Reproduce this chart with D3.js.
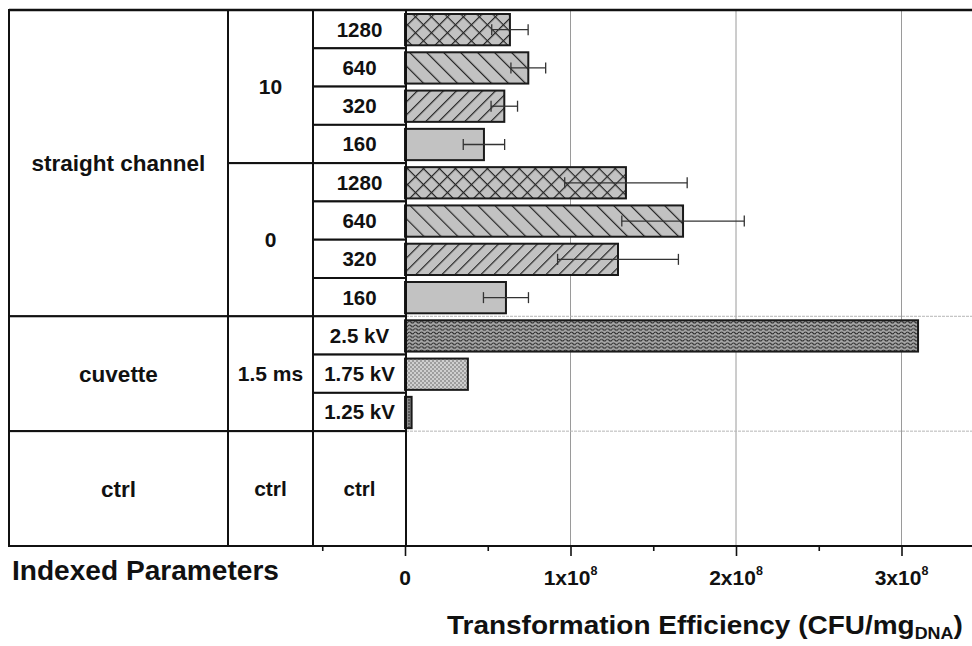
<!DOCTYPE html>
<html><head><meta charset="utf-8">
<script src="https://cdn.jsdelivr.net/npm/d3@7"></script>
<style>
body{margin:0;background:#fff}
svg{display:block}
text{font-family:"Liberation Sans",Arial,sans-serif;font-weight:bold;fill:#111}
</style>
</head><body><script>
// ---- data ----
const deviceLabels = ["straight channel", "cuvette", "ctrl"];
const deviceSpans  = [8, 3, 3];
const groupLabels  = ["10", "0", "1.5 ms", "ctrl"];
const groupSpans   = [4, 4, 3, 3];
const sampleLabels = ["1280","640","320","160","1280","640","320","160","2.5 kV","1.75 kV","1.25 kV","ctrl"];
const sampleSpans  = [1,1,1,1,1,1,1,1,1,1,1,3];
const efficiency   = [0.634e8, 0.745e8, 0.60e8, 0.477e8, 1.335e8, 1.68e8, 1.287e8, 0.61e8, 3.10e8, 0.38e8, 0.04e8, 0];
const errors       = [0.11e8, 0.105e8, 0.08e8, 0.125e8, 0.37e8, 0.37e8, 0.365e8, 0.136e8, null, null, null, null];
const majorTicks   = [0, 1e8, 2e8, 3e8];
const minorTicks   = [-0.5e8, 0.5e8, 1.5e8, 2.5e8];
const tickLabels   = ["0", "1x10^8", "2x10^8", "3x10^8"];
const axisTitle    = "Transformation Efficiency (CFU/mg";
const axisTitleSub = "DNA";
const tableTitle   = "Indexed Parameters";

// ---- layout ----
const W = 972, H = 646;
const yTop = 10, yBottom = 546;
const colEdges = [9, 228, 313, 406];
const svg = d3.select("body").append("svg").attr("width", W).attr("height", H);

const nRows = d3.sum(sampleSpans);
const y = d3.scaleBand().domain(d3.range(nRows)).range([yTop, yBottom]);
const bw = y.bandwidth();
const x = d3.scaleLinear().domain([0, 3e8]).range([405, 901.5]);

// patterns
const defs = svg.append("defs");
const grayBg = "#c2c2c2", ink = "#262626";
function linePattern(id, spacing, angle, cross) {
  const p = defs.append("pattern").attr("id", id).attr("patternUnits", "userSpaceOnUse")
    .attr("width", spacing).attr("height", spacing).attr("patternTransform", `rotate(${angle})`);
  p.append("rect").attr("width", spacing).attr("height", spacing).attr("fill", grayBg);
  p.append("line").attr("x1", 0).attr("y1", -1).attr("x2", 0).attr("y2", spacing + 1)
    .attr("stroke", ink).attr("stroke-width", 2.4);
  if (cross) p.append("line").attr("x1", -1).attr("y1", 0).attr("x2", spacing + 1).attr("y2", 0)
    .attr("stroke", ink).attr("stroke-width", 2.4);
}
linePattern("pCross", 11.3, 45, true);
linePattern("pBack", 12, -45, false);
linePattern("pFwd", 9.2, 45, false);
{
  const p = defs.append("pattern").attr("id", "pWave").attr("patternUnits", "userSpaceOnUse")
    .attr("width", 6).attr("height", 3.6);
  p.append("rect").attr("width", 6).attr("height", 3.6).attr("fill", "#a9a9a9");
  p.append("path").attr("d", "M0,1.8 Q1.5,0 3,1.8 T6,1.8").attr("fill", "none")
    .attr("stroke", "#2b2b2b").attr("stroke-width", 1.1);
}
{
  const p = defs.append("pattern").attr("id", "pDots").attr("patternUnits", "userSpaceOnUse")
    .attr("width", 4).attr("height", 4);
  p.append("rect").attr("width", 4).attr("height", 4).attr("fill", "#cfcfcf");
  p.append("circle").attr("cx", 1).attr("cy", 1).attr("r", 0.75).attr("fill", "#555");
  p.append("circle").attr("cx", 3).attr("cy", 3).attr("r", 0.75).attr("fill", "#555");
}
{
  const p = defs.append("pattern").attr("id", "pDark").attr("patternUnits", "userSpaceOnUse")
    .attr("width", 3).attr("height", 3);
  p.append("rect").attr("width", 3).attr("height", 3).attr("fill", "#8a8a8a");
  p.append("circle").attr("cx", 1).attr("cy", 1).attr("r", 0.8).attr("fill", "#222");
}
const patternOf = {"1280": "url(#pCross)", "640": "url(#pBack)", "320": "url(#pFwd)", "160": grayBg,
  "2.5 kV": "url(#pWave)", "1.75 kV": "url(#pDots)", "1.25 kV": "url(#pDark)"};

// gridlines
svg.append("g").selectAll("line").data(majorTicks.slice(1)).join("line")
  .attr("x1", d => x(d)).attr("x2", d => x(d)).attr("y1", yTop).attr("y2", yBottom)
  .attr("stroke", "#9a9a9a").attr("stroke-width", 1);

// group boundary lines in plot
function starts(spans) { let s = 0; return spans.map(v => { const r = s; s += v; return r; }); }
const devStarts = starts(deviceSpans);
svg.append("g").selectAll("line").data(devStarts.slice(1)).join("line")
  .attr("x1", colEdges[3]).attr("x2", W).attr("y1", d => y(d)).attr("y2", d => y(d))
  .attr("stroke", "#b5b5b5").attr("stroke-width", 1).attr("stroke-dasharray", "3,1");

// table
function drawColumn(labels, spans, ci, size) {
  const st = starts(spans);
  const g = svg.append("g");
  labels.forEach((lab, i) => {
    const y0 = y(st[i]), h = spans[i] * bw;
    g.append("rect").attr("x", colEdges[ci]).attr("y", y0)
      .attr("width", colEdges[ci + 1] - colEdges[ci]).attr("height", h)
      .attr("fill", "#fff").attr("stroke", "#111").attr("stroke-width", 2);
    g.append("text").attr("x", (colEdges[ci] + colEdges[ci + 1]) / 2).attr("y", y0 + h / 2)
      .attr("dy", "0.36em").attr("text-anchor", "middle").attr("font-size", size).text(lab);
  });
}
drawColumn(deviceLabels, deviceSpans, 0, 22.5);
drawColumn(groupLabels, groupSpans, 1, 21);
drawColumn(sampleLabels, sampleSpans, 2, 20.5);

// bars
const sStarts = starts(sampleSpans);
const bars = sampleLabels.map((lab, i) => ({lab, v: efficiency[i], e: errors[i], row: sStarts[i]}))
  .filter(d => d.v > 0);
svg.append("g").selectAll("rect").data(bars).join("rect")
  .attr("x", x(0)).attr("y", d => y(d.row) + 4).attr("width", d => x(d.v) - x(0))
  .attr("height", bw - 7).attr("fill", d => patternOf[d.lab])
  .attr("stroke", "#1a1a1a").attr("stroke-width", 2);

// error bars
const eb = svg.append("g").attr("stroke", "#333").attr("stroke-width", 1.3);
bars.filter(d => d.e != null).forEach(d => {
  const cy = y(d.row) + 4 + (bw - 7) / 2;
  eb.append("line").attr("x1", x(d.v - d.e)).attr("x2", x(d.v + d.e)).attr("y1", cy).attr("y2", cy);
  [d.v - d.e, d.v + d.e].forEach(v => eb.append("line").attr("x1", x(v)).attr("x2", x(v))
    .attr("y1", cy - 5.5).attr("y2", cy + 5.5));
});

// frame lines
svg.append("line").attr("x1", colEdges[0]).attr("x2", W).attr("y1", yTop).attr("y2", yTop)
  .attr("stroke", "#111").attr("stroke-width", 2.5);
svg.append("line").attr("x1", colEdges[3]).attr("x2", colEdges[3]).attr("y1", yTop).attr("y2", yBottom)
  .attr("stroke", "#111").attr("stroke-width", 2);

// x axis
const axG = svg.append("g").attr("transform", `translate(0,${yBottom})`);
axG.call(d3.axisBottom(x).tickValues(majorTicks).tickSize(10).tickFormat(""));
const axMinor = svg.append("g").attr("transform", `translate(0,${yBottom})`);
axMinor.call(d3.axisBottom(x).tickValues(minorTicks).tickSize(5).tickFormat(""));
svg.selectAll(".domain").remove();
svg.selectAll(".tick line").attr("stroke", "#111").attr("stroke-width", 1.6);
svg.append("line").attr("x1", colEdges[0]).attr("x2", W).attr("y1", yBottom).attr("y2", yBottom)
  .attr("stroke", "#111").attr("stroke-width", 2.2);

majorTicks.forEach((v, i) => {
  const parts = tickLabels[i].split("^");
  const t = svg.append("text").attr("x", x(v)).attr("y", 585).attr("text-anchor", "middle")
    .attr("font-size", 21);
  t.append("tspan").text(parts[0]);
  if (parts[1]) t.append("tspan").attr("font-size", 12.5).attr("dy", -10).text(parts[1]);
});

// table title
const tt = svg.append("text").attr("font-size", 27).text(tableTitle);
const ttw = tt.node().getComputedTextLength();
tt.attr("transform", `translate(12,580) scale(${267 / ttw},1)`);

// axis title
const at = svg.append("text").attr("font-size", 25);
at.append("tspan").text(axisTitle);
at.append("tspan").attr("font-size", 16).attr("dy", 5).text(axisTitleSub);
at.append("tspan").attr("dy", -5).text(")");
const atw = at.node().getBBox().width;
at.attr("transform", `translate(447,634) scale(${516 / atw},1)`);
</script></body></html>
